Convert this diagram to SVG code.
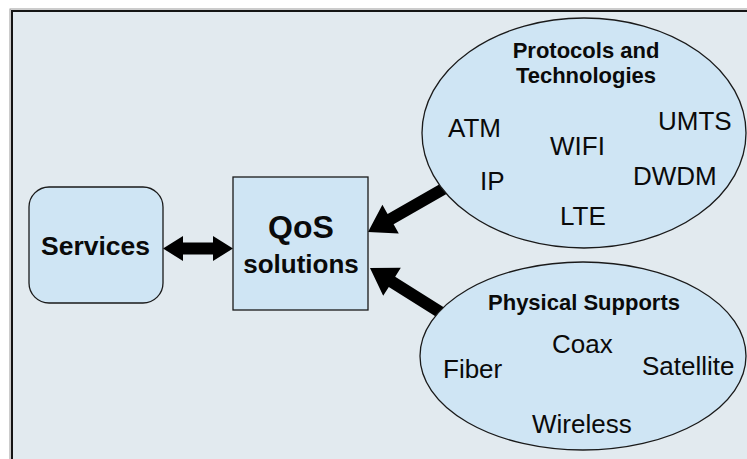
<svg xmlns="http://www.w3.org/2000/svg" width="747" height="459" viewBox="0 0 747 459">
  <style>
    .node { fill: #cfe5f4; stroke: #1a1a1a; stroke-width: 1.3; }
    .arrow { fill: #000000; stroke: none; }
    text { font-family: "Liberation Sans", Arial, sans-serif; fill: #0a0a0a; }
    .title { font-weight: bold; font-size: 22px; text-anchor: middle; }
    .item { font-size: 26px; }
    .big { font-weight: bold; text-anchor: middle; }
  </style>

  <!-- canvas background and frame -->
  <rect x="0" y="0" width="747" height="459" fill="#ffffff"/>
  <rect x="10" y="9" width="760" height="470" fill="none" stroke="#9a9a9a" stroke-width="1"/>
  <rect x="12" y="11" width="760" height="470" fill="#e2eaef" stroke="#151515" stroke-width="2"/>

  <!-- connectors -->
  <g id="connectors">
    <polygon class="arrow" points="163,248.5 183,236 183,242.5 213,242.5 213,236 233,248.5 213,261 213,254.5 183,254.5 183,261"/>
    <polygon class="arrow" points="368,232 398.8,233.4 393.6,224.3 449.1,192.6 443.1,182.2 387.6,213.9 382.4,204.8"/>
    <polygon class="arrow" points="370,268 383.2,295.8 388.8,286.9 442.9,321 449.3,310.8 395.2,276.7 400.8,267.8"/>
  </g>

  <!-- services box -->
  <g id="services">
    <rect class="node" x="29" y="187" width="134" height="116" rx="20" ry="20"/>
    <text class="big" x="95.5" y="255" font-size="26.5">Services</text>
  </g>

  <!-- QoS solutions box -->
  <g id="qos">
    <rect class="node" x="233" y="177" width="135" height="133"/>
    <text class="big" x="301" y="238" font-size="32">QoS</text>
    <text class="big" x="301" y="273" font-size="26">solutions</text>
  </g>

  <!-- protocols and technologies -->
  <g id="protocols">
    <ellipse class="node" cx="584" cy="133" rx="162" ry="115"/>
    <text class="title" x="586" y="58">Protocols and</text>
    <text class="title" x="586" y="83">Technologies</text>
    <text class="item" x="448" y="137">ATM</text>
    <text class="item" x="550" y="155">WIFI</text>
    <text class="item" x="658" y="130">UMTS</text>
    <text class="item" x="480" y="190">IP</text>
    <text class="item" x="633" y="185">DWDM</text>
    <text class="item" x="560" y="225">LTE</text>
  </g>

  <!-- physical supports -->
  <g id="physical">
    <ellipse class="node" cx="583" cy="356" rx="163" ry="94"/>
    <text class="title" x="584" y="310">Physical Supports</text>
    <text class="item" x="552" y="353">Coax</text>
    <text class="item" x="443" y="378">Fiber</text>
    <text class="item" x="642" y="375">Satellite</text>
    <text class="item" x="532" y="433">Wireless</text>
  </g>
</svg>
